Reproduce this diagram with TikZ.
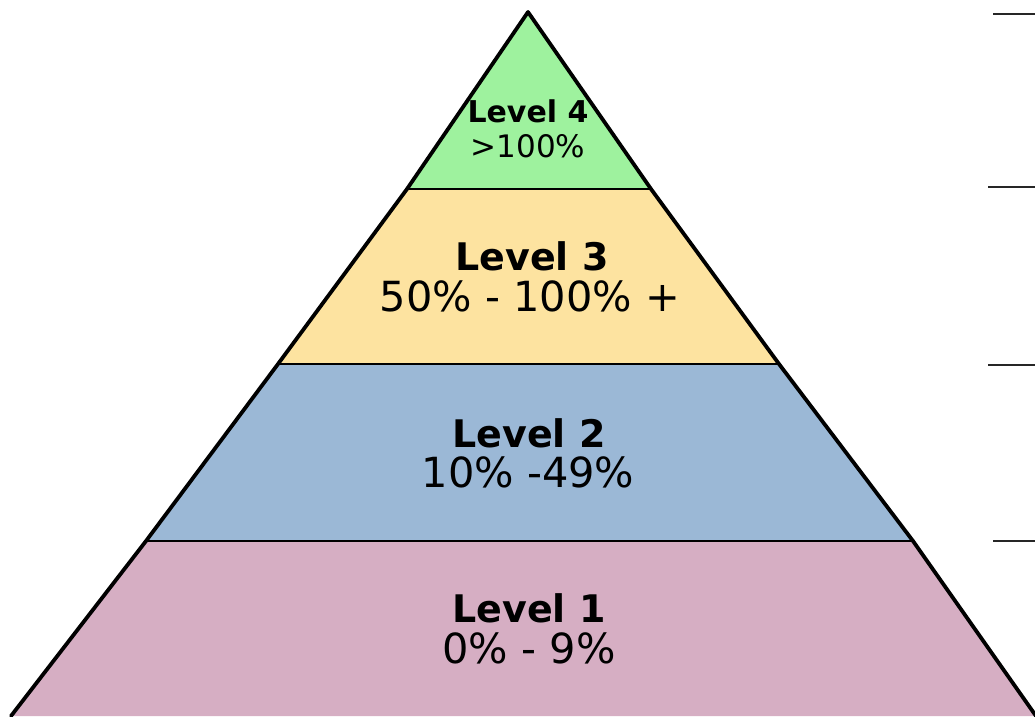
\documentclass[tikz,border=0pt]{standalone}
\usepackage{fontspec}
\setmainfont{DejaVu Sans}
\definecolor{lvfour}{HTML}{9EF29E}
\definecolor{lvthree}{HTML}{FDE3A0}
\definecolor{lvtwo}{HTML}{9BB8D6}
\definecolor{lvone}{HTML}{D6AEC3}
\tikzset{
  bandline/.style={draw=black, line width=2pt},
  edgeline/.style={draw=black, line width=3.8pt, line cap=round, line join=round},
  tickline/.style={draw=black!85, line width=2.8pt},
  headtext/.style={anchor=base, inner sep=0pt, font=\bfseries\fontsize{38}{38}\selectfont},
  pcttext/.style={anchor=base, inner sep=0pt, font=\fontsize{41.5}{41.5}\selectfont}
}
\begin{document}
\begin{tikzpicture}[x=1pt, y=-1pt]
\useasboundingbox (0,0) rectangle (1035,716);
% corner points of the pyramid, top to bottom
\coordinate (apex) at (528,12);
\coordinate (aL) at (407,189);
\coordinate (aR) at (651,189);
\coordinate (bL) at (278,364);
\coordinate (bR) at (779,364);
\coordinate (cL) at (146,541);
\coordinate (cR) at (913,541);
\coordinate (dL) at (11,716);
\coordinate (dR) at (1036,716);
% bands
\fill[lvfour] (apex) -- (aR) -- (aL) -- cycle;
\fill[lvthree] (aL) -- (aR) -- (bR) -- (bL) -- cycle;
\fill[lvtwo] (bL) -- (bR) -- (cR) -- (cL) -- cycle;
\fill[lvone] (cL) -- (cR) -- (dR) -- (dL) -- cycle;
\draw[bandline] (aL) -- (aR);
\draw[bandline] (bL) -- (bR);
\draw[bandline] (cL) -- (cR);
\draw[edgeline] (dL) -- (cL) -- (bL) -- (aL) -- (apex) -- (aR) -- (bR) -- (cR) -- (dR);
% labels
\node[headtext, font=\bfseries\fontsize{30}{30}\selectfont] (h4) at (528,122) {Level 4};
\node[pcttext, font=\fontsize{31}{31}\selectfont] (r4) at (528,157) {>100\%};
\node[headtext] (h3) at (532,270) {Level 3};
\node[pcttext] (r3) at (530,311) {50\% - 100\% +};
\node[headtext] (h2) at (529,447) {Level 2};
\node[pcttext] (r2) at (528,487) {10\% -49\%};
\node[headtext] (h1) at (529,622) {Level 1};
\node[pcttext] (r1) at (529,663) {0\% - 9\%};
% tick marks at the right margin
\coordinate (t1a) at (993,14);  \coordinate (t1b) at (1035,14);
\coordinate (t2a) at (988,187); \coordinate (t2b) at (1035,187);
\coordinate (t3a) at (988,365); \coordinate (t3b) at (1035,365);
\coordinate (t4a) at (993,541); \coordinate (t4b) at (1035,541);
\draw[tickline] (t1a) -- (t1b);
\draw[tickline] (t2a) -- (t2b);
\draw[tickline] (t3a) -- (t3b);
\draw[tickline] (t4a) -- (t4b);
\end{tikzpicture}
\end{document}
